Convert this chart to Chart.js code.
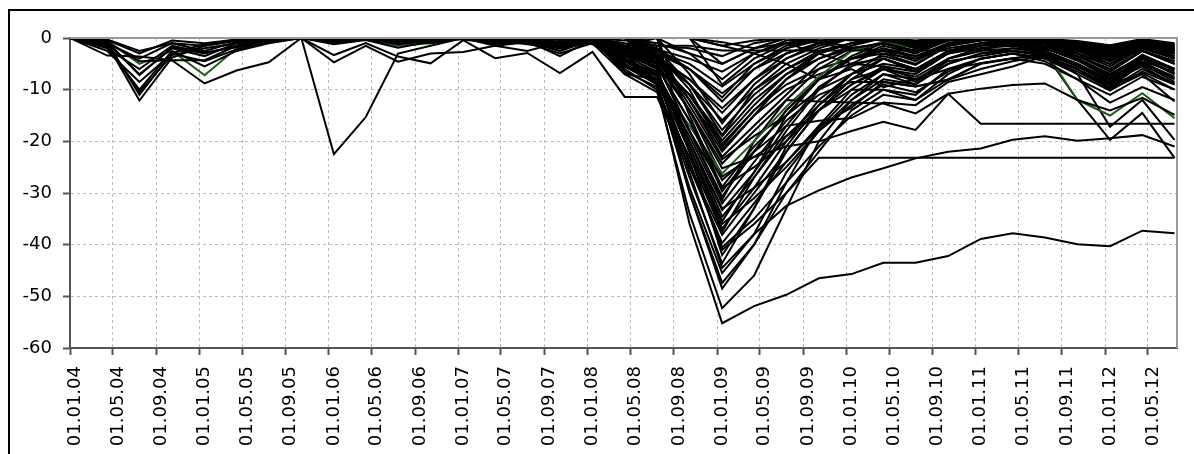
<!DOCTYPE html>
<html>
<head>
<meta charset="utf-8">
<script src="https://cdn.jsdelivr.net/npm/chart.js@4.4.1/dist/chart.umd.min.js"></script>
<style>
  html, body { margin: 0; padding: 0; background: #fff; }
  canvas { display: block; }
</style>
</head>
<body>
<canvas id="dd" width="1194" height="454"></canvas>
<script>
const _ = null;

// Observation dates (quarterly) and axis labels
const pointDates = ['01.01.04','15.04.04','15.07.04','15.10.04','15.01.05','15.04.05','15.07.05','15.10.05',
  '15.01.06','15.04.06','15.07.06','15.10.06','15.01.07','15.04.07','15.07.07','15.10.07','15.01.08','15.04.08',
  '15.07.08','15.10.08','15.01.09','15.04.09','15.07.09','15.10.09','15.01.10','15.04.10','15.07.10','15.10.10',
  '15.01.11','15.04.11','15.07.11','15.10.11','15.01.12','15.04.12','15.07.12'];
const tickLabels = ['01.01.04','01.05.04','01.09.04','01.01.05','01.05.05','01.09.05','01.01.06','01.05.06',
  '01.09.06','01.01.07','01.05.07','01.09.07','01.01.08','01.05.08','01.09.08','01.01.09','01.05.09','01.09.09',
  '01.01.10','01.05.10','01.09.10','01.01.11','01.05.11','01.09.11','01.01.12','01.05.12'];
const axisEnd = '22.07.12';
const yTicks = [0, -10, -20, -30, -40, -50, -60];

// Drawdown series (%), one per fund
const e01 = [0,-1.2,-12.1,-3.8,-1.5,-0.6,0,0,-1.2,-0.4,-1.9, -0.7,0,-0.6,-0.3,-1.8,0, -4.5,-6.5,-20,-33.3, -26,-17,-9.5,-5.5,-3.5,-5.2,-1.5, 0,-0.8,-1.8,-4.2,-7.5,-3.2,-6.0];
const e02 = [0,-0.8,-11.0,-2.9,-1.2,-0.4,0,0,-3.3,-1.0,-3.6, -4.9,-0.4,-3.9,-2.9,-6.8,-2.7, -11.4,-11.4,-25,-38.1, -30,-22,-14,-9,-6,-8.5,-4, -2,-2.5,-3.5,-6,-9.5,-5,-8.5];
const e03 = [0,-1.5,-10.5,-3.3,-2.0,-1.0,0,0,-4.7,-1.5,-4.6, -3.0,-2.7,-1.5,-0.8,-2.5,-0.4, -5.5,-7.0,-18,-28.8, -21,-15,-8,-4,-2.5,-4.5,-1.2, -0.3,-1,-2.2,-3.5,-6.5,-2.5,-5.0];
const e04 = [0,-3.4,-3.6,-4.3,-4.3,-1.5,-0.3,0,-0.5,-0.2,-1.0, -0.3,0,-0.8,-0.5,-2.0,0, -2.5,-4,-12,-23, -17,-11,-5,-2,-1,-3,0, 0,-0.5,-1,-2.5,-5,-1.5,-3];
const e05 = [0,-0.5,-5.0,-2.5,-7.2,-2.0,-0.8,0,-0.8,-0.3,-1.5, -1.0,0,-0.8,-0.4,-1.2,0, -5.6,-8.2,-17,-26.2, -20,-13.3,-7.5,-2.5,-0.7,-2.0,-0.5, 0,0,-2.5,-12.0,-15.0,-10.7,-15.5];
const e06 = [0,-0.3,-2.5,-1.0,-1.5,-0.3,0,0,-22.5,-15.3,-3.0, -1.5,0,-0.5,-1.2,-2.0,0, -2.5,-4.0,-9,-15.9, -10,-6,-3,-1,0,-2,0, 0,-0.3,-1,-2.5,-4.5,-1.5,-3.5];
const e07 = [0,-0.6,-7.2,-1.8,-3.0,-1.5,0,0,-0.5,0,-1.0, -0.5,-0.2,0,-0.5,-1.0,0, -2.0,-3.0,-12,-21, -14,-8,-4,-1.5,0,-1,0, 0,0,-0.5,-2,-3.5,-1,-2.5];
const e08 = [0,-2.0,-6.0,-1.5,-2.8,-1.8,-0.5,0,-0.3,-0.2,-0.6, -0.3,0,-0.2,0,-0.4,0, -1.5,-2.0,-6,-10.7, -6,-3,-1,0,-0.5,-1.5,0, -0.2,0,-0.8,-1.5,-2.5,-0.8,-2.0];
const e09 = [0,-1.0,-4.0,-1.0,-2.5,-0.8,0,0,-0.8,-0.3,-0.9, -0.4,0,-1.0,-0.6,-2.0,0, -7.0,-8.0,-22,-36.9, -29,-20,-12,-7,-4,-6,-2.5, -1,-1.5,-2.5,-5,-8,-4,-7];
const e10 = [0,-0.4,-3.0,-0.5,-1.0,-0.3,0,0,-0.2,0,-0.4, 0,0,0,0,-0.3,0, -1.0,-1.5,-1.5,-2.4, -2.4,-2.4,-2.4,-2.4,-2.4,-2.4,-2.4, -2.4,-0.5,0,-0.8,-1.5,-0.5,-1.2];
const e11 = [0,-0.8,-4.5,-4.3,-8.8,-6.3,-4.7,0,-0.6,-0.2,-0.8, -0.4,0,-0.5,-0.3,-1.5,0, -3.5,-5.5,-16,-29.7, -22,-14,-8,-4,-2,-3.5,-1, 0,-0.5,-1.5,-3.5,-6,-2.5,-4.5];
const e12 = [0,-1.8,-10.0,-2.5,-5.5,-2.5,-1.0,0,-0.4,0,-0.7, -0.2,0,-0.3,-0.1,-0.8,0, -2.2,-3.5,-8,-13.6, -8,-4,-1.5,0,0,-1,0, 0,0,-0.4,-1.2,-2.2,-0.5,-1.5];
const e13 = [0,-1.0,-7.0,-2.0,-3.5,-1.0,-0.3,0,-0.3,-0.1,-0.5, -0.2,0,-0.4,-0.2,-1.1,0, -1.8,-2.5,-5,-9.4, -5,-2,-0.5,0,0,-0.8,0, 0,0,-0.3,-1.0,-2.0,-0.4,-1.2];
const e14 = [0,-2.5,-8.5,-3.0,-4.5,-2.2,-0.8,0,-0.5,-0.2,-1.2, -0.6,0,-0.7,-0.3,-1.6,0, -3.0,-4.8,-11,-19.8, -13,-7,-3,-1,0,-1.5,0, 0,-0.2,-0.8,-2.2,-4,-1.2,-2.8];

const c01 = [_,_,_,_,_,_,_,_,_,_,_,_, 0,-0.5,-0.2,-1.5,0, -3,-9,-36,-55.2, -51.9,-49.7,-46.5,-45.7,-43.5,-43.5,-42.2, -38.9,-37.8,-38.6,-39.9,-40.3,-37.3,-37.8];
const c02 = [_,_,_,_,_,_,_,_,_,_,_,_,_,_, 0,-2,-0.5, -6,-10,-34,-52.3, -46,-33,-20,-12,-8,-9,-5, -3,-2.5,-3,-5.5,-8,-4.5,-6.5];
const c03 = [_,_,_,_,_,_,_,_,_,_,_,_,_, 0,-1,-3,-1, -5,-8.5,-30,-47.4, -40,-30,-22,-14,-10,-12,-7, -4,-3,-4,-7,-10.2,-6.5,-9];
const c04 = [_,_,_,_,_,_,_,_,_,_,_,_,_,_,_,_, 0, -4,-7,-26,-44.5, -38,-32.5,-29.5,-27,-25.2,-23.3,-22, -21.4,-19.7,-19,-19.9,-19.4,-18.8,-21];
const c05 = [_,_,_,_,_,_,_,_,_,_,_, 0,-0.3,-1,-0.5,-2.5,0, -5.5,-9,-27,-43.6, -33,-22,-14,-8,-4,-6,-2.5, -1,0,-1,-3.5,-6,-2.5,-4.5];
const c06 = [_,_,_,_,_,_,_,_,_,_,_,_,_,_,_, 0,0, -4.5,-8,-24,-41, -36,-30,-23.2,-23.2,-23.2,-23.2,-23.2, -23.2,-23.2,-23.2,-23.2,-23.2,-23.2,-23.2];
const c07 = [_,_,_,_,_,_,_,_,_,_, 0, -1.0,0,-1.2,-0.6,-3.5,-0.3, -6.5,-9.5,-25,-39.7, -32,-24,-17,-13.5,-8.5,-9.4,-8.1, -4.9,-3.9,-3.3,-5,-9,-4.8,-7.5];
const c08 = [_,_,_,_,_,_,_,_,_,_,_,_,_,_,_,_, 0, -3.5,-6.5,-20,-34.6, -27,-18,-10,-5,-2,-4,-1, 0,0,-1,-3,-5.5,-2,-4];
const c09 = [_,_,_,_,_,_,_,_,_,_,_,_,_,_,_, 0,-0.5, -4,-7.5,-19,-32, -24,-16,-11,-8.5,-8.5,-9.4,-8.1, -6,-4.5,-3.5,-6,-9.1,-6.8,-10];
const c10 = [_,_,_,_,_,_,_,_,_,_,_,_,_,_, 0,-1.5,0, -3,-5,-18,-30.7, -22,-14,-8,-4,-1.5,-3,-0.5, 0,0,-0.8,-2.5,-4.5,-1.5,-3.5];
const c11 = [_,_,_,_,_,_,_,_,_,_,_,_,_, 0,-0.8,-2,-0.3, -2.5,-5,-14,-24.3, -18,-12,-12.3,-12.5,-12.7,-14.6,-10.8, -9.8,-9.1,-8.8,-12,-14,-11.6,-14.9];
const c12 = [_,_,_,_,_,_,_,_,_,_,_,_,_,_,_,_,_, 0,-4,-14,-25.2, -23,-21,-20,-18,-16.2,-17.8,-10.8, -16.6,-16.6,-16.6,-16.6,-16.6,-16.6,-16.6];
const c13 = [_,_,_,_,_,_,_,_,_,_,_,_,_,_,_,_, 0, -3,-5.5,-16,-27.5, -22,-17,-16,-15.5,-12.5,-13,-8.5, -7,-5.5,-3.5,-6,-10,-7,-12.3];
const c14 = [_,_,_,_,_,_,_,_,_,_,_,_,_,_,_,_,_, 0,-5,-30,-48.5, -40,-28,-17,-10,-6,-7,-3, -1.5,-1,-1.5,-4,-7,-3.5,-6];
const c15 = [_,_,_,_,_,_,_,_,_,_,_,_,_,_,_,_, 0, -5,-9,-29,-45.5, -38,-26,-18,-12,-7,-9,-4, -2,-1.5,-2.5,-5,-8.5,-4,-7];
const c16 = [_,_,_,_,_,_,_,_,_,_,_,_,_,_,_,_,_,_, 0,-22,-42, -33,-21,-13,-7,-3,-5,-1.5, -0.5,0,-1,-3,-5,-2,-4];
const c17 = [_,_,_,_,_,_,_,_,_,_,_,_,_,_,_, 0,-1, -7,-10.5,-23,-37.5, -27,-19,-14,-10,-10,-11,-6, -4,-3,-4.5,-8,-12.5,-9.5,-12];
const c18 = [_,_,_,_,_,_,_,_,_,_,_,_, 0,-0.6,-0.3,-1.8,0, -4,-7,-21,-35.5, -26,-15,-8,-3.5,-1,-2.5,0, 0,-0.5,-1.5,-3,-6.5,-2.5,-5];
const c19 = [_,_,_,_,_,_,_,_,_,_,_,_,_,_,_,_,_, 0,-5,-18,-31.3, -20,-12,-6,-2.5,-1,-2.5,0, 0,0,-0.5,-2,-4,-1,-3];
const c20 = [_,_,_,_,_,_,_,_,_,_,_,_,_,_,_,_, 0, -2,-4,-12,-22, -15,-8,-3,-1,0,-1.5,0, 0,0,-0.4,-1.5,-3,-0.8,-2.5];
const c21 = [_,_,_,_,_,_,_,_,_,_,_,_,_,_, 0,-1,0, -2.5,-4.5,-11,-20.5, -14,-9,-6,-4,-3,-4,-2, -1,-1,-2,-4,-7,-3.5,-6];
const c22 = [_,_,_,_,_,_,_,_,_,_,_,_,_,_,_,_,_, 0,-2,-9,-18.8, -10,-5,-2,0,0,-1,0, 0,0,-0.3,-1,-2.5,-0.5,-2];
const c23 = [_,_,_,_,_,_,_,_,_,_,_,_,_, 0,-0.4,-1.2,0, -2,-3.5,-9,-17.8, -11,-6,-2.5,-1,0,-0.8,0, 0,-0.2,-0.6,-1.8,-3.5,-1,-3];
const c24 = [_,_,_,_,_,_,_,_,_,_,_,_,_,_,_,_,_,_, 0,-7,-16.5, -9,-4,-1,0,0,-0.5,0, 0,0,-0.4,-1.2,-2,-0.5,-1.6];
const c25 = [_,_,_,_,_,_,_,_,_,_,_,_,_,_,_, 0,0, -2.5,-4,-8,-14.5, -8,-3,-1,0,0,-1,0, 0,0,-0.2,-0.8,-1.8,-0.4,-1.4];
const c26 = [_,_,_,_,_,_,_,_,_,_,_,_,_,_,_,_,_, 0,-2.5,-6,-12.3, -6,-2,0,0,0,-0.6,0, 0,0,-0.5,-1.3,-2.8,-0.6,-2.2];
const c27 = [_,_,_,_,_,_,_,_,_,_,_,_,_,_,_,_, 0, -1.5,-3,-6,-11.5, -5,-1.5,0,0,-0.3,-1.2,-0.2, 0,-0.1,-0.6,-1.6,-3.2,-1.3,-3.8];
const c28 = [_,_,_,_,_,_,_,_,_,_,_,_,_,_,_,_,_,_, 0,-3,-8, -3,-0.5,0,0,-0.2,-0.8,0, 0,0,-0.2,-0.6,-1.4,-0.2,-1];
const c29 = [_,_,_,_,_,_,_,_,_,_,_,_,_,_, 0,-0.8,0, -1.5,-2.2,-4,-6.5, -3,-1,0,0,-0.4,-1,0, 0,0,-0.4,-1.1,-2.4,-0.8,-2.2];
const c30 = [_,_,_,_,_,_,_,_,_,_,_,_,_,_,_,_,_, 0,-1,-3,-5, -2,0,0,-0.5,-0.2,-0.9,0, 0,-0.3,-0.8,-1.8,-3.6,-1.8,-3];
const c31 = [_,_,_,_,_,_,_,_,_,_,_,_, 0,-1.5,-2.5,-0.8,0, -1.5,0,0,-1.5, -3,-5,-8,-6,-9.5,-8,-6, -4.9,-3.9,-3.3,-5,-8.5,-5.5,-9];
const c32 = [_,_,_,_,_,_,_,_,_,_,_,_,_,_,_,_, 0, -0.5,0,0,-0.8, -2,-1,-3,-5,-4,-6.5,-3, -1,-0.5,-0.8,-2,-4,-2.5,-5];
const c33 = [_,_,_,_,_,_,_,_,_,_,_,_,_,_,_,_,_, 0,-1.5,-2,-3.5, -1,0,-0.5,-1.8,-2.5,-3.5,-1.5, -0.5,0,-0.3,-1.4,-2.6,-0.7,-2.3];
const c34 = [_,_,_,_,_,_,_,_,_,_,_,_,_,_,_,_,_,_, 0,0,-1.5, -0.5,0,-1,-2.2,-1,-1.8,0, 0,0,-0.3,-0.9,-2,-0.4,-1.7];
const c35 = [_,_,_,_,_,_,_,_,_,_,_,_,_,_,_,_,_,_,_, 0,-5, -2,0,0,0,-0.4,-1,0, 0,-0.2,-0.5,-1.5,-3,-1,-2.6];
const c36 = [_,_,_,_,_,_,_,_,_,_,_,_,_,_,_,_,_,_,_, 0,-9, -4,-1,0,-0.3,0,-0.8,0, 0,0,-0.7,-2,-4.2,-1.7,-4];
const c37 = [_,_,_,_,_,_,_,_,_,_,_,_,_,_,_, 0,-0.5, -3,-6,-11,-19, -12,-7,-4,-2,-1,-2.5,-0.5, 0,-0.5,-3,-12,-19.7,-14.5,-23.2];
const c38 = [_,_,_,_,_,_,_,_,_,_,_,_,_,_,_,_,_, 0,-3,-10,-21.5, -15,-10,-7,-5,-5.5,-8,-4.5, -3.5,-2.5,-3,-7,-17.2,-12,-19.7];
const c39 = [_,_,_,_,_,_,_,_,_,_,_,_,_,_,_,_, 0, -4,-8,-24,-40.5, -35,-28,-21,-15,-11,-12,-8, -5,-4,-5,-8,-11,-7.5,-10];
const c40 = [_,_,_,_,_,_,_,_,_,_,_,_,_,_,_,_,_, 0,-6,-22,-36, -31,-25,-18,-13,-9,-10.5,-6.5, -4,-3,-3.8,-6.5,-9.8,-6,-8.8];
const c41 = [_,_,_,_,_,_,_,_,_,_,_,_,_,_,_, 0,-1.2, -5,-8,-20,-33, -29,-24,-17.5,-11,-7,-8,-5, -3,-2,-2.8,-5.5,-8.8,-5.2,-8];
const c42 = [_,_,_,_,_,_,_,_,_,_,_,_,_,_,_,_,_,_, 0,-15,-29, -25,-20,-14,-9,-5.5,-6.5,-3, -1.5,-1,-1.8,-4,-7.2,-3.8,-6.2];
const c43 = [_,_,_,_,_,_,_,_,_,_,_,_,_,_,_,_, 0, -2.5,-5,-14,-26.8, -23,-19,-13,-8,-6,-7.5,-4, -2.5,-2,-2.5,-5,-8.6,-4.6,-7.8];
const c44 = [_,_,_,_,_,_,_,_,_,_,_,_,_,_,_,_,_, 0,-3.5,-13,-23.5, -19,-15,-10,-7,-5,-6,-3, -2,-1.2,-2,-4.4,-7.8,-4,-6.8];

const blackSeries = [e01,e02,e03,e04,e06,e07,e08,e09,e10,e11,e12,e13,e14,
  c01,c02,c03,c04,c05,c06,c07,c08,c09,c10,c11,c12,c13,c14,c15,c16,c17,c18,c19,
  c20,c21,c22,c23,c24,c25,c26,c27,c28,c29,c30,c31,c32,c33,c34,c35,c36,c37,c38,
  c39,c40,c41,c42,c43,c44];
const greenSeries = e05;

function dayNumber(s) {
  const [d, m, y] = s.split('.').map(Number);
  return (Date.UTC(2000 + y, m - 1, d) - Date.UTC(2004, 0, 1)) / 864e5;
}
const pointDays = pointDates.map(dayNumber);
const tickDays = tickLabels.map(dayNumber);

function toPoints(series) {
  const pts = [];
  series.forEach((v, i) => { if (v !== null) pts.push({ x: pointDays[i], y: v }); });
  return pts;
}
function lineDataset(series, color) {
  return { data: toPoints(series), borderColor: color, borderWidth: 2, pointRadius: 0,
           pointHoverRadius: 0, tension: 0, fill: false };
}

const datasets = [];
blackSeries.forEach((s, i) => {
  datasets.push(lineDataset(s, '#000000'));
  if (i === 30) datasets.push(lineDataset(greenSeries, '#1f5a1a'));
});

const frame = {
  id: 'frame',
  beforeDraw(chart) {
    const ctx = chart.ctx;
    ctx.save();
    ctx.fillStyle = '#ffffff';
    ctx.fillRect(0, 0, chart.width, chart.height);
    ctx.strokeStyle = '#000000';
    ctx.lineWidth = 2;
    ctx.beginPath();
    ctx.moveTo(9, chart.height);
    ctx.lineTo(9, 10);
    ctx.lineTo(chart.width, 10);
    ctx.stroke();
    ctx.restore();
  },
  afterDraw(chart) {
    const { ctx, chartArea: a } = chart;
    ctx.save();
    ctx.strokeStyle = '#9a9a9a';
    ctx.lineWidth = 2;
    ctx.beginPath();
    ctx.moveTo(a.left, a.top);
    ctx.lineTo(a.right, a.top);
    ctx.lineTo(a.right, a.bottom);
    ctx.stroke();
    ctx.restore();
  }
};

const labelFont = { family: 'DejaVu Sans', size: 18 };

new Chart(document.getElementById('dd'), {
  type: 'line',
  data: { datasets },
  plugins: [frame],
  options: {
    responsive: false,
    animation: false,
    events: [],
    layout: { padding: { left: 0, top: 38, right: 17, bottom: 0 } },
    plugins: { legend: { display: false }, tooltip: { enabled: false } },
    scales: {
      x: {
        type: 'linear',
        min: 0,
        max: dayNumber(axisEnd),
        afterBuildTicks(axis) { axis.ticks = tickDays.map(v => ({ value: v })); },
        afterFit(axis) { axis.height = 106; },
        ticks: {
          autoSkip: false, maxRotation: 90, minRotation: 90, padding: 11,
          labelOffset: 5, color: '#000000', font: labelFont,
          callback(value, index) { return tickLabels[index]; }
        },
        grid: { color: '#bdbdbd', lineWidth: 1, tickLength: 7, tickColor: '#555555',
                tickWidth: 2, tickBorderDash: [] },
        border: { color: '#555555', width: 2, dash: [3, 3] }
      },
      y: {
        min: -60,
        max: 0,
        afterBuildTicks(axis) { axis.ticks = yTicks.map(v => ({ value: v })); },
        afterFit(axis) { axis.width = 70; },
        ticks: { padding: 11, color: '#000000', font: labelFont,
                 callback(value) { return String(value); } },
        grid: { color: '#bdbdbd', lineWidth: 1, tickLength: 7, tickColor: '#555555',
                tickWidth: 2, tickBorderDash: [] },
        border: { color: '#555555', width: 2, dash: [3, 3] }
      }
    }
  }
});
</script>
</body>
</html>
